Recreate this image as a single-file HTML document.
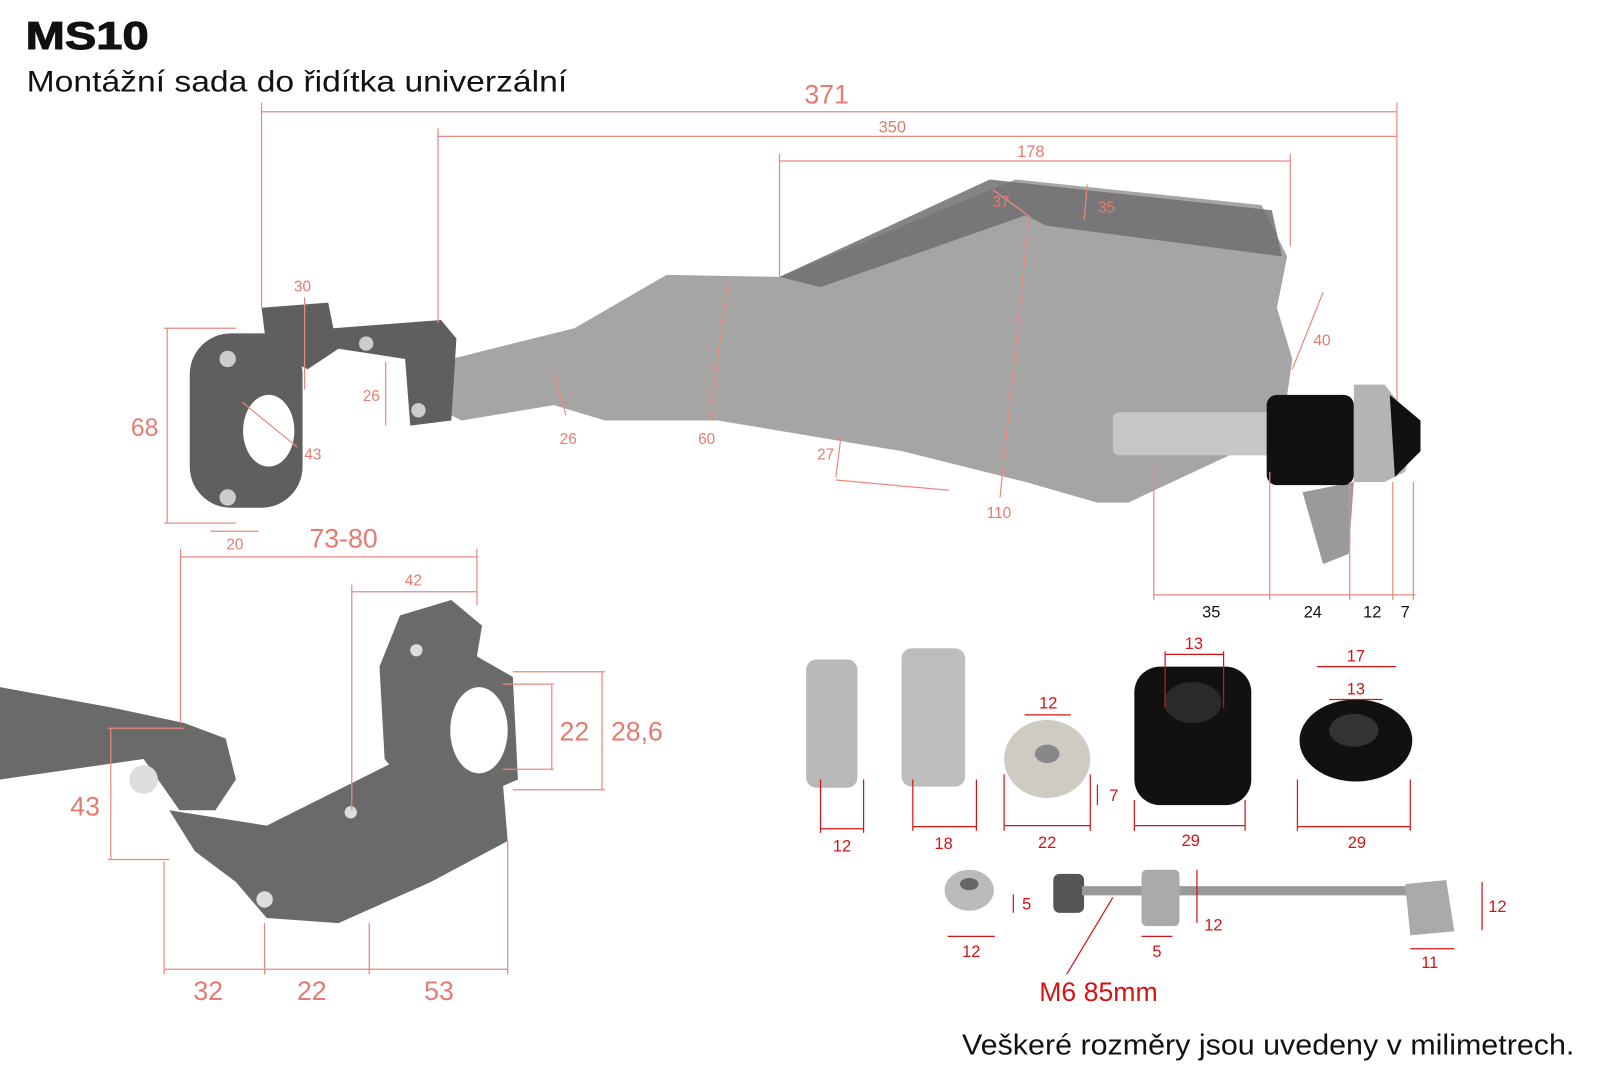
<!DOCTYPE html>
<html><head><meta charset="utf-8"><style>
html,body{margin:0;padding:0;background:#fff;width:1600px;height:1080px;overflow:hidden}
svg{display:block}
.p{fill:#e57b70;font-family:"Liberation Sans",sans-serif}
.r{fill:#d41414;font-family:"Liberation Sans",sans-serif}
</style></head><body>
<svg width="1600" height="1080" viewBox="0 0 1560 1053" xmlns="http://www.w3.org/2000/svg">
<text x="25" y="48" font-family="Liberation Sans,sans-serif" font-weight="bold" font-size="38" fill="#111" textLength="120" lengthAdjust="spacingAndGlyphs" stroke="#111" stroke-width="1">MS10</text>
<text x="26" y="89" font-family="Liberation Sans,sans-serif" font-size="29" fill="#111" textLength="527" lengthAdjust="spacingAndGlyphs">Montážní sada do řidítka univerzální</text>
<text x="938" y="1028" font-family="Liberation Sans,sans-serif" font-size="28" fill="#111" textLength="597" lengthAdjust="spacingAndGlyphs">Veškeré rozměry jsou uvedeny v milimetrech.</text>

<!-- handguard -->
<g fill="#959595" opacity="0.85">
<path d="M440 350 L560 320 L650 268 L760 270 L990 175 L1230 200 L1255 250 L1245 300 L1260 350 L1250 420 L1100 490 L1070 490 L1000 470 L880 440 L700 410 L590 410 L540 395 L450 410 L430 400 Z"/>
</g>
<path d="M760 270 L965 175 L1240 205 L1250 250 L1020 220 L1000 210 L800 280 Z" fill="#6e6e72" opacity="0.85"/>
<path d="M1270 480 L1320 470 L1315 540 L1290 550 Z" fill="#9a9a9a"/>
<!-- bracket top -->
<g fill="#5f5f5f">
<path d="M255 300 L320 295 L325 320 L430 312 L445 330 L440 410 L400 415 L395 350 L330 340 L300 360 L260 340 Z"/>
<rect x="185" y="325" width="110" height="170" rx="40"/>
</g>
<ellipse cx="262" cy="420" rx="25" ry="35" fill="#fff"/>
<circle cx="222" cy="350" r="8" fill="#ccc"/><circle cx="222" cy="485" r="8" fill="#ccc"/><circle cx="357" cy="335" r="7" fill="#ccc"/><circle cx="408" cy="400" r="7" fill="#ccc"/>
<!-- bar end -->
<rect x="1085" y="402" width="155" height="42" rx="6" fill="#c6c6c6"/>
<rect x="1235" y="385" width="85" height="88" rx="10" fill="#111"/>
<path d="M1320 375 L1350 375 L1370 400 L1380 420 L1370 460 L1350 470 L1320 470 Z" fill="#b4b4b4"/>
<path d="M1355 385 L1385 410 L1385 440 L1360 465 Z" fill="#111"/>

<!-- bottom-left bracket -->
<g fill="#6a6a6a">
<path d="M0 670 L110 690 L180 705 L220 720 L230 760 L210 790 L175 790 L140 740 L0 760 Z"/>
<path d="M165 790 L260 805 L330 770 L390 740 L430 720 L490 760 L495 820 L420 860 L330 900 L260 895 L230 860 L190 830 Z"/>
<path d="M390 600 L440 585 L470 610 L465 640 L500 660 L505 760 L470 775 L440 760 L400 770 L375 740 L370 650 Z"/>
</g>
<ellipse cx="467" cy="712" rx="28" ry="42" fill="#fff"/>
<circle cx="140" cy="760" r="14" fill="#ddd"/><circle cx="406" cy="634" r="6" fill="#ddd"/><circle cx="342" cy="792" r="6" fill="#ddd"/><circle cx="258" cy="877" r="8" fill="#ddd"/>

<!-- small parts -->
<rect x="786" y="643" width="50" height="125" rx="10" fill="#b8b8b8"/>
<rect x="879" y="632" width="62" height="135" rx="10" fill="#bdbdbd"/>
<ellipse cx="1021" cy="740" rx="42" ry="38" fill="#cfcac2"/><ellipse cx="1021" cy="735" rx="12" ry="9" fill="#888"/>
<rect x="1106" y="650" width="114" height="135" rx="25" fill="#111"/><ellipse cx="1163" cy="685" rx="28" ry="20" fill="#2a2a2a"/>
<ellipse cx="1322" cy="722" rx="55" ry="40" fill="#111"/><ellipse cx="1320" cy="712" rx="24" ry="16" fill="#333"/>
<ellipse cx="945" cy="868" rx="24" ry="20" fill="#bbb"/><ellipse cx="945" cy="862" rx="9" ry="6" fill="#666"/>
<rect x="1027" y="852" width="30" height="38" rx="6" fill="#555"/>
<rect x="1055" y="864" width="320" height="9" fill="#999"/>
<rect x="1113" y="848" width="37" height="55" rx="5" fill="#aaa"/>
<path d="M1370 862 L1410 858 L1418 908 L1375 912 Z" fill="#aaa"/>

<!-- pink dims -->
<g stroke="#e8897f" stroke-width="1.2" fill="none">
<line x1="255" y1="109" x2="1362" y2="109"/><line x1="255" y1="100" x2="255" y2="300"/><line x1="1362" y1="100" x2="1362" y2="390"/>
<line x1="427" y1="133" x2="1362" y2="133"/><line x1="427" y1="125" x2="427" y2="315"/>
<line x1="760" y1="157" x2="1258" y2="157"/><line x1="760" y1="150" x2="760" y2="270"/><line x1="1258" y1="150" x2="1258" y2="240"/>
<line x1="163" y1="320" x2="163" y2="510"/><line x1="160" y1="320" x2="230" y2="320"/><line x1="160" y1="510" x2="230" y2="510"/>
<line x1="297" y1="290" x2="297" y2="380"/><line x1="376" y1="353" x2="376" y2="415"/><line x1="236" y1="392" x2="290" y2="436"/>
<line x1="205" y1="518" x2="252" y2="518"/><line x1="540" y1="365" x2="552" y2="405"/><line x1="710" y1="270" x2="692" y2="410"/>
<line x1="820" y1="425" x2="815" y2="465"/><line x1="815" y1="468" x2="925" y2="478"/><line x1="1003" y1="215" x2="975" y2="485"/>
<line x1="968" y1="185" x2="1005" y2="212"/><line x1="1060" y1="180" x2="1057" y2="215"/><line x1="1290" y1="285" x2="1260" y2="360"/>
<line x1="1125" y1="580" x2="1380" y2="580"/><line x1="1125" y1="450" x2="1125" y2="585"/><line x1="1238" y1="460" x2="1238" y2="585"/><line x1="1316" y1="470" x2="1316" y2="585"/><line x1="1358" y1="470" x2="1358" y2="585"/><line x1="1378" y1="470" x2="1378" y2="585"/>
<line x1="176" y1="543" x2="465" y2="543"/><line x1="176" y1="535" x2="176" y2="705"/><line x1="465" y1="535" x2="465" y2="590"/>
<line x1="343" y1="577" x2="465" y2="577"/><line x1="343" y1="570" x2="343" y2="790"/>
<line x1="490" y1="667" x2="540" y2="667"/><line x1="490" y1="750" x2="540" y2="750"/><line x1="538" y1="667" x2="538" y2="750"/>
<line x1="500" y1="655" x2="590" y2="655"/><line x1="500" y1="770" x2="590" y2="770"/><line x1="587" y1="655" x2="587" y2="770"/>
<line x1="108" y1="710" x2="108" y2="838"/><line x1="105" y1="710" x2="180" y2="710"/><line x1="105" y1="838" x2="165" y2="838"/>
<line x1="160" y1="945" x2="495" y2="945"/><line x1="160" y1="840" x2="160" y2="950"/><line x1="258" y1="900" x2="258" y2="950"/><line x1="360" y1="900" x2="360" y2="950"/><line x1="495" y1="820" x2="495" y2="950"/>
</g>
<g class="p" text-anchor="middle">
<text x="806" y="101" font-size="26">371</text><text x="870" y="129" font-size="16">350</text><text x="1005" y="153" font-size="16">178</text>
<text x="295" y="284" font-size="15">30</text><text x="141" y="425" font-size="24">68</text><text x="362" y="391" font-size="15">26</text>
<text x="305" y="448" font-size="15">43</text><text x="229" y="536" font-size="15">20</text><text x="554" y="433" font-size="15">26</text>
<text x="689" y="433" font-size="15">60</text><text x="805" y="448" font-size="15">27</text><text x="974" y="505" font-size="15">110</text>
<text x="976" y="202" font-size="15">37</text><text x="1079" y="207" font-size="15">35</text><text x="1289" y="337" font-size="15">40</text>
<text x="335" y="534" font-size="26">73-80</text><text x="403" y="571" font-size="15">42</text>
<text x="560" y="722" font-size="26">22</text><text x="621" y="722" font-size="26">28,6</text><text x="83" y="795" font-size="26">43</text>
<text x="203" y="975" font-size="26">32</text><text x="304" y="975" font-size="26">22</text><text x="428" y="975" font-size="26">53</text>
</g>
<!-- red dims -->
<g stroke="#d41414" stroke-width="1.2" fill="none">
<line x1="800" y1="808" x2="842" y2="808"/><line x1="800" y1="760" x2="800" y2="812"/><line x1="842" y1="760" x2="842" y2="812"/>
<line x1="890" y1="806" x2="952" y2="806"/><line x1="890" y1="760" x2="890" y2="810"/><line x1="952" y1="760" x2="952" y2="810"/>
<line x1="979" y1="805" x2="1063" y2="805"/><line x1="979" y1="755" x2="979" y2="810"/><line x1="1063" y1="755" x2="1063" y2="810"/>
<line x1="999" y1="697" x2="1044" y2="697"/><line x1="1070" y1="765" x2="1070" y2="785"/>
<line x1="1106" y1="805" x2="1214" y2="805"/><line x1="1106" y1="780" x2="1106" y2="810"/><line x1="1214" y1="780" x2="1214" y2="810"/>
<line x1="1136" y1="638" x2="1193" y2="638"/><line x1="1136" y1="635" x2="1136" y2="690"/><line x1="1193" y1="635" x2="1193" y2="690"/>
<line x1="1265" y1="806" x2="1375" y2="806"/><line x1="1265" y1="760" x2="1265" y2="810"/><line x1="1375" y1="760" x2="1375" y2="810"/>
<line x1="1284" y1="650" x2="1361" y2="650"/><line x1="1296" y1="682" x2="1348" y2="682"/>
<line x1="924" y1="913" x2="970" y2="913"/><line x1="988" y1="872" x2="988" y2="890"/>
<line x1="1113" y1="913" x2="1143" y2="913"/><line x1="1167" y1="848" x2="1167" y2="900"/>
<line x1="1445" y1="860" x2="1445" y2="907"/><line x1="1375" y1="925" x2="1418" y2="925"/>
<line x1="1040" y1="950" x2="1085" y2="875"/>
</g>
<g class="r" text-anchor="middle" font-size="16">
<text x="821" y="830">12</text><text x="920" y="828">18</text><text x="1021" y="827">22</text><text x="1022" y="691">12</text>
<text x="1086" y="781">7</text><text x="1161" y="825">29</text><text x="1164" y="633">13</text><text x="1323" y="827">29</text>
<text x="1322" y="645">17</text><text x="1322" y="677">13</text><text x="947" y="933">12</text><text x="1001" y="887">5</text>
<text x="1128" y="933">5</text><text x="1183" y="907">12</text><text x="1460" y="889">12</text><text x="1394" y="944">11</text>
<text x="1071" y="976" font-size="26">M6 85mm</text>
</g>
<g fill="#111" font-family="Liberation Sans,sans-serif" font-size="16" text-anchor="middle">
<text x="1181" y="602">35</text><text x="1280" y="602">24</text><text x="1338" y="602">12</text><text x="1370" y="602">7</text>
</g>
</svg>
</body></html>
